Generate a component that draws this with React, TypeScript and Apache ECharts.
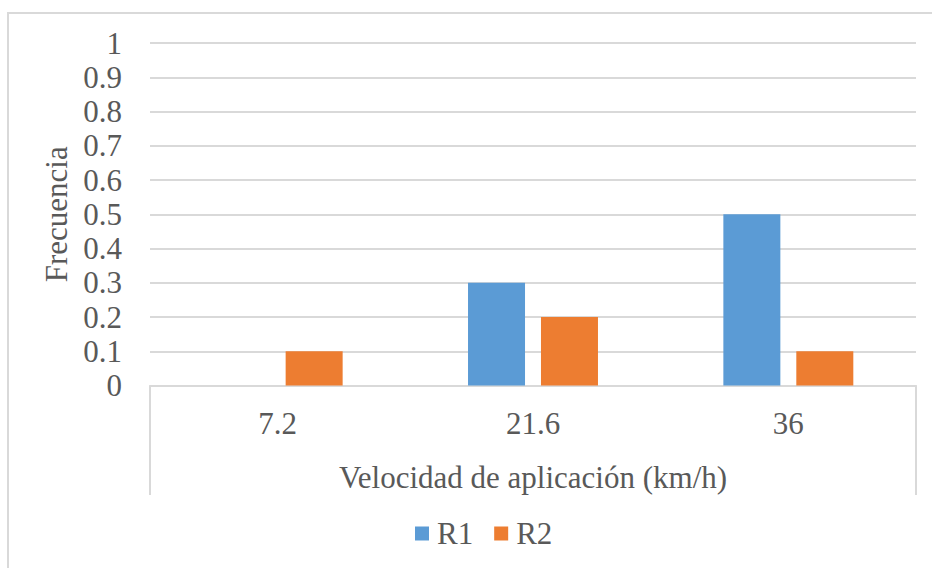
import React, { useEffect, useRef } from "react";
import * as echarts from "echarts";

const categories = ["7.2", "21.6", "36"];
const seriesR1 = [0, 0.3, 0.5];
const seriesR2 = [0.1, 0.2, 0.1];
const seriesNames = ["R1", "R2"];

const W = 932;
const H = 568;
const GRID = { left: 150, right: 16, top: 43, bottom: 182.5 };
const FONT = "Liberation Serif, Times New Roman, serif";
const FS = 31;
const TEXT = "#595959";
const LINE = "#d9d9d9";

export default function App() {
  const ref = useRef<HTMLDivElement>(null);

  useEffect(() => {
    if (!ref.current) return;
    const chart = echarts.init(ref.current, null, { renderer: "svg" });
    const axisY = H - GRID.bottom;
    const plotRight = W - GRID.right;
    const dividerBottom = 495;

    chart.setOption({
      animation: false,
      backgroundColor: "#ffffff",
      color: ["#5b9bd5", "#ed7d31"],
      grid: { ...GRID, containLabel: false },
      legend: {
        data: seriesNames,
        top: 513,
        left: 410,
        itemWidth: 14,
        itemHeight: 14,
        itemGap: 21,
        icon: "rect",
        textStyle: { fontFamily: FONT, fontSize: FS, color: TEXT, padding: [0, 0, 0, 3] },
      },
      xAxis: {
        type: "category",
        data: categories,
        name: "Velocidad de aplicación (km/h)",
        nameLocation: "middle",
        nameGap: 76,
        nameTextStyle: { fontFamily: FONT, fontSize: FS, color: TEXT },
        axisLine: { show: true, lineStyle: { color: LINE, width: 2 } },
        axisTick: { show: false },
        axisLabel: { fontFamily: FONT, fontSize: FS, color: TEXT, margin: 22 },
      },
      yAxis: {
        type: "value",
        min: 0,
        max: 1,
        interval: 0.1,
        name: "Frecuencia",
        nameLocation: "middle",
        nameGap: 76,
        nameTextStyle: { fontFamily: FONT, fontSize: FS, color: TEXT },
        axisLine: { show: false },
        axisTick: { show: false },
        axisLabel: { fontFamily: FONT, fontSize: FS, color: TEXT, margin: 28 },
        splitLine: { lineStyle: { color: LINE, width: 2 } },
      },
      series: [
        { name: seriesNames[0], type: "bar", data: seriesR1, barWidth: 57, barGap: "28%" },
        { name: seriesNames[1], type: "bar", data: seriesR2, barWidth: 57, barGap: "28%" },
      ],
      graphic: [
        {
          type: "rect",
          shape: { x: 8, y: 13, width: 2000, height: 2000 },
          style: { fill: "none", stroke: LINE, lineWidth: 2 },
          silent: true,
        },
        {
          type: "line",
          shape: { x1: GRID.left, y1: axisY, x2: GRID.left, y2: dividerBottom },
          style: { stroke: LINE, lineWidth: 2 },
          silent: true,
        },
        {
          type: "line",
          shape: { x1: plotRight, y1: axisY, x2: plotRight, y2: dividerBottom },
          style: { stroke: LINE, lineWidth: 2 },
          silent: true,
        },
      ],
    });
    return () => chart.dispose();
  }, []);

  return (
    <div
      ref={ref}
      style={{ position: "absolute", left: 0, top: 0, width: W, height: H }}
    />
  );
}
